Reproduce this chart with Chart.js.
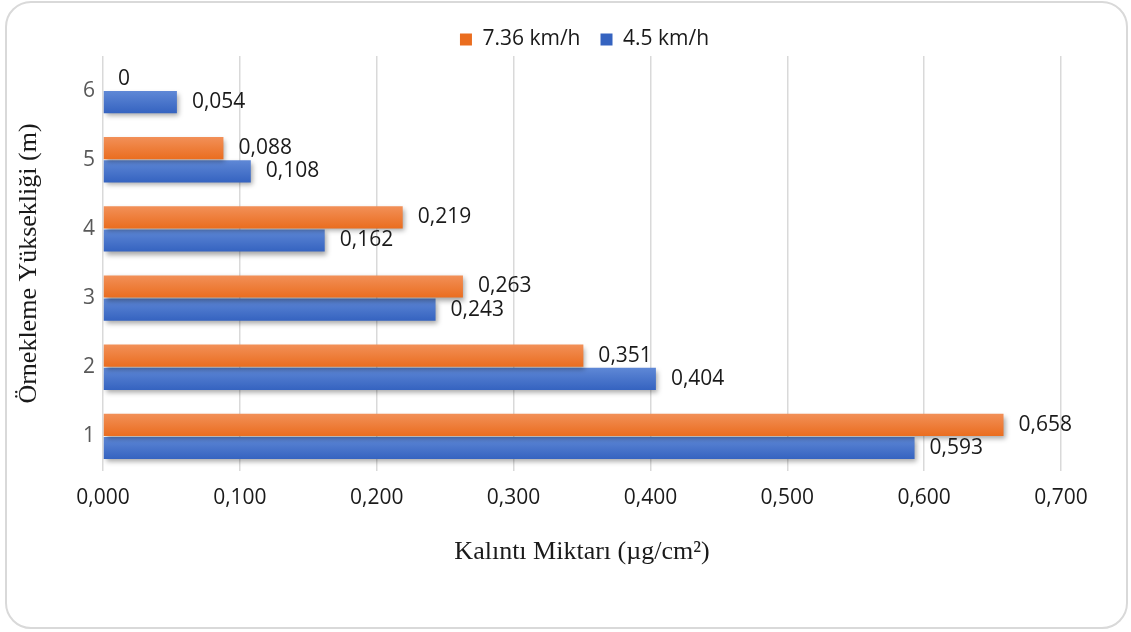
<!DOCTYPE html>
<html>
<head>
<meta charset="utf-8">
<script src="https://cdn.jsdelivr.net/npm/chart.js@4.4.1/dist/chart.umd.min.js"></script>
<style>
  html, body { margin: 0; padding: 0; background: #ffffff; }
  #wrap { position: relative; width: 1131px; height: 632px; }
  #frame { position: absolute; left: 5px; top: 1px; width: 1119px; height: 624px;
           border: 2px solid #d9d9d9; border-radius: 26px; box-sizing: content-box; pointer-events: none; }
  canvas { position: absolute; left: 0; top: 0; }
</style>
</head>
<body>
<div id="wrap">
  <canvas id="c" width="1131" height="632"></canvas>
  <div id="frame"></div>
</div>
<script>
// ---- data (top to bottom) ----
const categories = ['6', '5', '4', '3', '2', '1'];
const seriesNames = ['7.36 km/h', '4.5 km/h'];
const speed736 = [0, 0.088, 0.219, 0.263, 0.351, 0.658];
const speed45 = [0.054, 0.108, 0.162, 0.243, 0.404, 0.593];
const xTicks = [0, 0.1, 0.2, 0.3, 0.4, 0.5, 0.6, 0.7];
const xTitle = 'Kalıntı Miktarı (µg/cm²)';
const yTitle = 'Örnekleme Yüksekliği (m)';

const fmt = v => v === 0 ? '0' : v.toFixed(3).replace('.', ',');

const gradients = [
  ['#f29058', '#ea6d1f'],
  ['#5f88d6', '#3563c0']
];

const barStyle = {
  id: 'barStyle',
  afterLayout(chart) {
    chart.legend.top += 4; chart.legend.bottom += 4;
    chart.legend.left += 49; chart.legend.right += 49;
  },
  beforeDatasetsDraw(chart) {
    const ctx = chart.ctx;
    chart.data.datasets.forEach((ds, i) => {
      chart.getDatasetMeta(i).data.forEach(el => {
        const top = el.y - el.height / 2, bot = el.y + el.height / 2;
        const g = ctx.createLinearGradient(0, top, 0, bot);
        g.addColorStop(0, gradients[i][0]);
        g.addColorStop(1, gradients[i][1]);
        el.options = Object.assign({}, el.options, { backgroundColor: g });
      });
    });
    ctx.save();
    ctx.shadowColor = 'rgba(0,0,0,0.35)';
    ctx.shadowBlur = 5;
    ctx.shadowOffsetX = 2;
    ctx.shadowOffsetY = 3;
  },
  afterDatasetsDraw(chart) {
    const ctx = chart.ctx;
    ctx.restore();
    ctx.save();
    ctx.font = '21px "Open Sans"';
    ctx.fillStyle = '#1a1a1a';
    ctx.textBaseline = 'middle';
    ctx.textAlign = 'left';
    chart.data.datasets.forEach((ds, i) => {
      chart.getDatasetMeta(i).data.forEach((el, j) => {
        ctx.fillText(fmt(ds.data[j]), el.x + 15, el.y);
      });
    });
    ctx.restore();
  }
};

new Chart(document.getElementById('c'), {
  type: 'bar',
  data: {
    labels: categories,
    datasets: [
      { label: seriesNames[0], data: speed736, backgroundColor: () => '#ed7d31', borderWidth: 0 },
      { label: seriesNames[1], data: speed45, backgroundColor: () => '#4472c4', borderWidth: 0 }
    ]
  },
  options: {
    indexAxis: 'y',
    responsive: false,
    animation: false,
    devicePixelRatio: 1,
    categoryPercentage: 0.67,
    barPercentage: 0.96,
    layout: { padding: { top: 5, left: 10, right: 70, bottom: 0 } },
    plugins: {
      legend: {
        position: 'top',
        labels: {
          boxWidth: 12, boxHeight: 12, padding: 20,
          color: '#1a1a1a',
          font: { family: '"Open Sans"', size: 21 },
          generateLabels(chart) {
            return chart.data.datasets.map((ds, i) => ({
              text: ds.label, fillStyle: gradients[i][1], strokeStyle: gradients[i][1],
              lineWidth: 0, hidden: false, datasetIndex: i, fontColor: '#1a1a1a'
            }));
          }
        }
      },
      tooltip: { enabled: false }
    },
    scales: {
      x: {
        min: 0, max: 0.7,
        afterBuildTicks(scale) { scale.ticks = xTicks.map(v => ({ value: v })); },
        afterFit(scale) { scale.height = 632 - 471; },
        grid: { color: '#d9d9d9', lineWidth: 1.5, drawTicks: false },
        border: { display: false },
        ticks: {
          padding: 14,
          color: '#1a1a1a',
          font: { family: '"Open Sans"', size: 21 },
          callback: v => v.toFixed(3).replace('.', ','),
          maxRotation: 0
        },
        title: {
          display: true, text: xTitle, color: '#1a1a1a',
          font: { family: '"Liberation Serif"', size: 26 },
          padding: { top: 0, bottom: 64 }
        }
      },
      y: {
        afterFit(scale) { scale.width = 103 - 10; },
        grid: { display: false, drawTicks: false },
        border: { display: false },
        ticks: {
          padding: 8,
          color: '#595959',
          font: { family: '"Open Sans"', size: 21 }
        },
        title: {
          display: true, text: yTitle, color: '#1a1a1a',
          font: { family: '"Liberation Serif"', size: 26 },
          padding: { top: 4, bottom: 0 }
        }
      }
    }
  },
  plugins: [barStyle]
});
</script>
</body>
</html>
